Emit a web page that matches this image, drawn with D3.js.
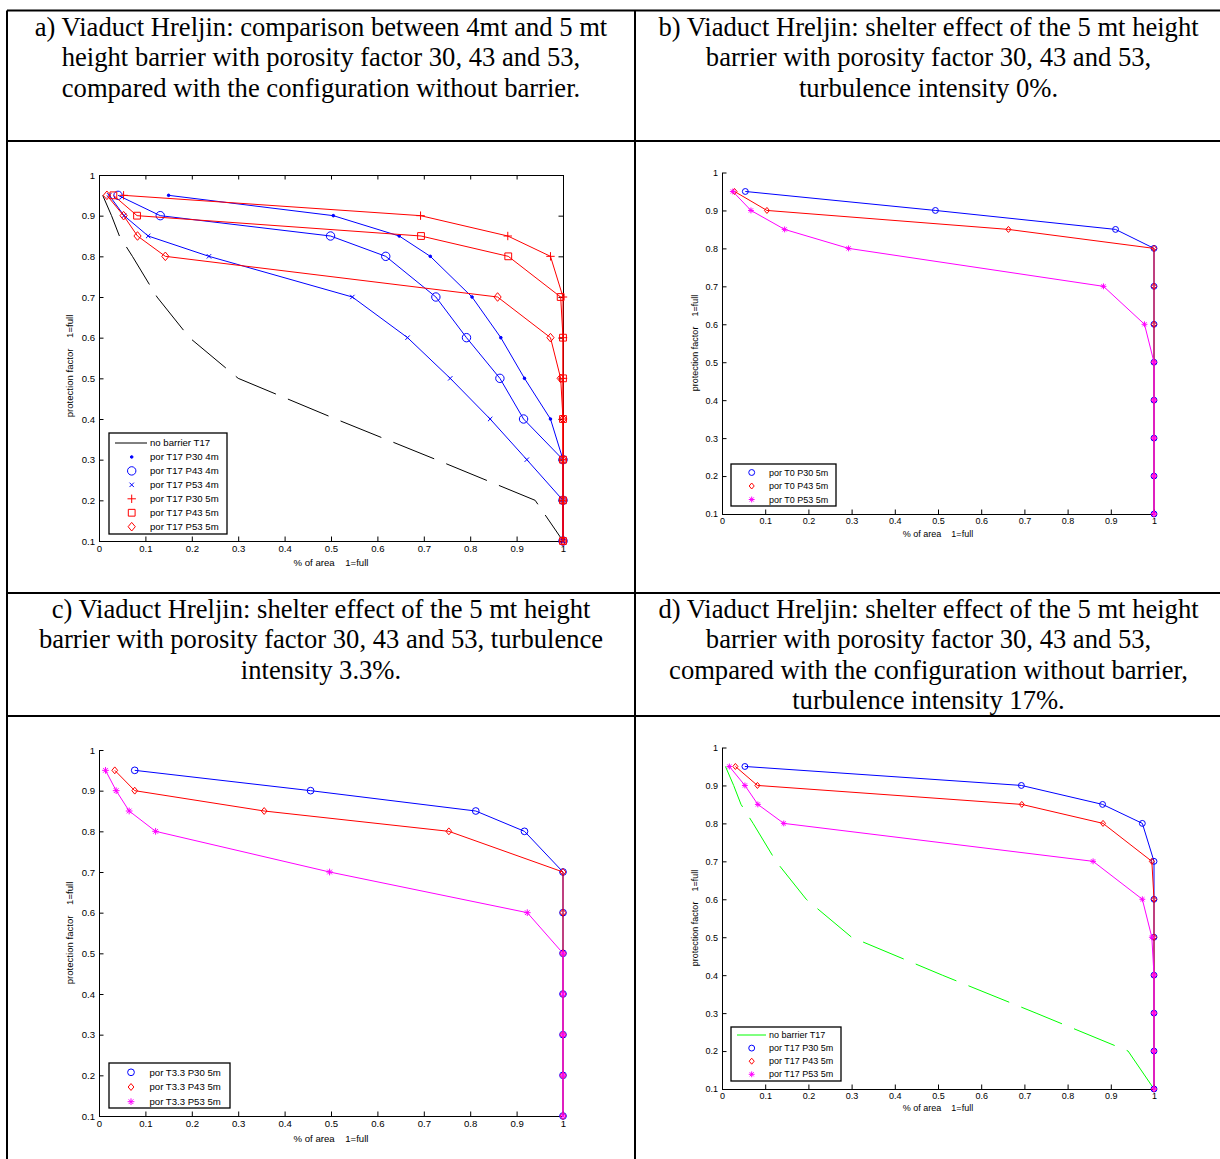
<!DOCTYPE html>
<html>
<head>
<meta charset="utf-8">
<script src="https://cdn.jsdelivr.net/npm/d3@7"></script>
<style>
  body { margin: 0; background: #fff; }
  text { white-space: pre; }
</style>
</head>
<body>
<div id="fig"></div>
<script>
// protection factor levels shared by every curve (y values)
const protectionLevels = [0.95, 0.9, 0.85, 0.8, 0.7, 0.6, 0.5, 0.4, 0.3, 0.2, 0.1];
const xTicks = [0, 0.1, 0.2, 0.3, 0.4, 0.5, 0.6, 0.7, 0.8, 0.9, 1];
const yTicks = [0.1, 0.2, 0.3, 0.4, 0.5, 0.6, 0.7, 0.8, 0.9, 1];

// % of area (x values), one array per curve
const noBarrierT17 = [0.008, 0.027, 0.044, 0.072, 0.125, 0.195, 0.3, 0.51, 0.727, 0.94, 1];
const t17P30_4m = [0.15, 0.505, 0.647, 0.714, 0.804, 0.866, 0.917, 0.973, 1, 1, 1];
const t17P43_4m = [0.041, 0.132, 0.499, 0.618, 0.726, 0.792, 0.864, 0.915, 1, 1, 1];
const t17P53_4m = [0.022, 0.054, 0.106, 0.237, 0.546, 0.665, 0.757, 0.843, 0.922, 1, 1];
const t17P30_5m = [0.053, 0.693, 0.881, 0.973, 1, 1, 1, 1, 1, 1, 1];
const t17P43_5m = [0.031, 0.082, 0.694, 0.882, 0.995, 1, 1, 1, 1, 1, 1];
const t17P53_5m = [0.017, 0.053, 0.083, 0.143, 0.859, 0.973, 0.995, 1, 1, 1, 1];
const t0P30_5m = [0.054, 0.494, 0.911, 1, 1, 1, 1, 1, 1, 1, 1];
const t0P43_5m = [0.029, 0.104, 0.663, 1, 1, 1, 1, 1, 1, 1, 1];
const t0P53_5m = [0.025, 0.067, 0.145, 0.293, 0.883, 0.978, 1, 1, 1, 1, 1];
const t33P30_5m = [0.077, 0.456, 0.812, 0.917, 1, 1, 1, 1, 1, 1, 1];
const t33P43_5m = [0.034, 0.077, 0.356, 0.754, 1, 1, 1, 1, 1, 1, 1];
const t33P53_5m = [0.014, 0.037, 0.065, 0.122, 0.497, 0.923, 1, 1, 1, 1, 1];

const titleA = ["a) Viaduct Hreljin: comparison between 4mt and 5 mt",
                "height barrier with porosity factor 30, 43 and 53,",
                "compared with the configuration without barrier."];
const titleB = ["b) Viaduct Hreljin: shelter effect of the 5 mt height",
                "barrier with porosity factor 30, 43 and 53,",
                "turbulence intensity 0%."];
const titleC = ["c) Viaduct Hreljin: shelter effect of the 5 mt height",
                "barrier with porosity factor 30, 43 and 53, turbulence",
                "intensity 3.3%."];
const titleD = ["d) Viaduct Hreljin: shelter effect of the 5 mt height",
                "barrier with porosity factor 30, 43 and 53,",
                "compared with the configuration without barrier,",
                "turbulence intensity 17%."];

const W = 1220, H = 1159;
const svg = d3.select("#fig").append("svg")
    .attr("width", W).attr("height", H)
    .style("display", "block");

svg.append("rect").attr("width", W).attr("height", H).attr("fill", "#fff");

// ---- table grid ----
const grid = svg.append("g").attr("stroke", "#000").attr("stroke-width", 2);
[[7, 10.5, 1230, 10.5], [7, 141, 1230, 141], [7, 593, 1230, 593], [7, 716, 1230, 716],
 [7, 10.5, 7, 1170], [635, 10.5, 635, 1170]].forEach(l => {
  grid.append("line").attr("x1", l[0]).attr("y1", l[1]).attr("x2", l[2]).attr("y2", l[3]);
});

function drawTitle(lines, cx, y0) {
  const t = svg.append("text")
      .attr("font-family", "'Liberation Serif', 'Times New Roman', serif")
      .attr("font-size", 26.6)
      .attr("text-anchor", "middle")
      .attr("fill", "#000");
  lines.forEach((s, i) => {
    t.append("tspan").attr("x", cx).attr("y", y0 + i * 30.3).text(s);
  });
}
drawTitle(titleA, 321, 36);
drawTitle(titleB, 928.5, 36);
drawTitle(titleC, 321, 618);
drawTitle(titleD, 928.5, 618);

// ---- markers ----
function markerPath(type, k) {
  let r;
  switch (type) {
    case "o": r = 4.2 * k; return `M${-r},0A${r},${r} 0 1,0 ${r},0A${r},${r} 0 1,0 ${-r},0`;
    case "s": r = 3.4 * k; return `M${-r},${-r}H${r}V${r}H${-r}Z`;
    case "d": { const w = 3.6 * k, h = 4.3 * k; return `M0,${-h}L${w},0L0,${h}L${-w},0Z`; }
    case "+": r = 4.2 * k; return `M${-r},0H${r}M0,${-r}V${r}`;
    case "x": r = 2.2 * k; return `M${-r},${-r}L${r},${r}M${-r},${r}L${r},${-r}`;
    case "*": { r = 4.2 * k; const q = r * 0.7;
      return `M${-r},0H${r}M0,${-r}V${r}M${-q},${-q}L${q},${q}M${-q},${q}L${q},${-q}`; }
    case ".": r = 1.3 * k; return `M${-r},0A${r},${r} 0 1,0 ${r},0A${r},${r} 0 1,0 ${-r},0`;
  }
  return "";
}

function drawPanel(p) {
  const g = svg.append("g");
  const x = d3.scaleLinear().domain([0, 1]).range([p.left, p.right]);
  const y = d3.scaleLinear().domain([0.1, 1]).range([p.bottom, p.top]);
  const fmt = d => (d === 0 || d === 1) ? String(d) : d.toFixed(1);
  const font = "'Liberation Sans', Arial, sans-serif";

  const ax = g.append("g").attr("transform", `translate(0,${p.bottom})`)
      .call(d3.axisBottom(x).tickValues(xTicks).tickFormat(fmt)
            .tickSizeInner(-4.5).tickSizeOuter(0).tickPadding(4));
  const ay = g.append("g").attr("transform", `translate(${p.left},0)`)
      .call(d3.axisLeft(y).tickValues(yTicks).tickFormat(fmt)
            .tickSizeInner(-4.5).tickSizeOuter(0).tickPadding(4));
  const axes = [ax, ay];
  if (p.box) {
    axes.push(g.append("g").attr("transform", `translate(0,${p.top})`)
      .call(d3.axisTop(x).tickValues(xTicks).tickFormat("").tickSizeInner(-4.5).tickSizeOuter(0)));
    axes.push(g.append("g").attr("transform", `translate(${p.right},0)`)
      .call(d3.axisRight(y).tickValues(yTicks).tickFormat("").tickSizeInner(-4.5).tickSizeOuter(0)));
  }
  axes.forEach(a => {
    a.selectAll("path, line").attr("stroke", "#000").attr("stroke-width", 1);
    a.selectAll("text").attr("font-family", font).attr("font-size", p.fs).attr("fill", "#000");
  });

  g.append("text")
      .attr("x", (p.left + p.right) / 2).attr("y", p.xlabY)
      .attr("text-anchor", "middle").attr("font-family", font).attr("font-size", p.fs)
      .text("% of area    1=full");
  g.append("text")
      .attr("transform", `translate(${p.ylabX},${p.ylabY}) rotate(-90)`)
      .attr("text-anchor", "middle").attr("font-family", font).attr("font-size", p.fs)
      .text("protection factor    1=full");

  const line = d3.line().x(d => x(d[0])).y(d => y(d[1]));
  p.series.forEach(s => {
    const pts = s.xs.map((v, i) => [v, protectionLevels[i]]);
    g.append("path").datum(pts)
        .attr("d", line).attr("fill", "none")
        .attr("stroke", s.color).attr("stroke-width", 1)
        .attr("stroke-dasharray", s.dash || null);
    if (s.marker) {
      g.selectAll(null).data(pts).enter().append("path")
          .attr("transform", d => `translate(${x(d[0])},${y(d[1])})`)
          .attr("d", markerPath(s.marker, p.mk))
          .attr("fill", s.marker === "." ? s.color : "none")
          .attr("stroke", s.color).attr("stroke-width", 1);
    }
  });

  // legend
  const L = p.legend;
  const lg = g.append("g");
  lg.append("rect").attr("x", L.x).attr("y", L.y).attr("width", L.w).attr("height", L.h)
      .attr("fill", "#fff").attr("stroke", "#000").attr("stroke-width", 1.3);
  p.series.forEach((s, i) => {
    const ry = L.row0 + i * L.step;
    if (s.dash) {
      lg.append("line").attr("x1", L.lx0).attr("x2", L.lx1).attr("y1", ry).attr("y2", ry)
          .attr("stroke", s.color).attr("stroke-width", 1);
    }
    if (s.marker) {
      lg.append("path").attr("transform", `translate(${L.mx},${ry})`)
          .attr("d", markerPath(s.marker, p.mk))
          .attr("fill", s.marker === "." ? s.color : "none")
          .attr("stroke", s.color).attr("stroke-width", 1);
    }
    lg.append("text").attr("x", L.tx).attr("y", ry).attr("dy", "0.35em")
        .attr("font-family", font).attr("font-size", p.fs).text(s.name);
  });
}

const BLUE = "#0000ff", RED = "#ff0000", MAG = "#ff00ff", GREEN = "#00ff00";
const DASH = "44,13";

drawPanel({
  left: 99, right: 563, top: 175, bottom: 541, box: true, fs: 9.6, mk: 1,
  xlabY: 566, ylabX: 73, ylabY: 366,
  series: [
    { name: "no barrier T17", xs: noBarrierT17, color: "#000", dash: DASH },
    { name: "por T17 P30 4m", xs: t17P30_4m, color: BLUE, marker: "." },
    { name: "por T17 P43 4m", xs: t17P43_4m, color: BLUE, marker: "o" },
    { name: "por T17 P53 4m", xs: t17P53_4m, color: BLUE, marker: "x" },
    { name: "por T17 P30 5m", xs: t17P30_5m, color: RED, marker: "+" },
    { name: "por T17 P43 5m", xs: t17P43_5m, color: RED, marker: "s" },
    { name: "por T17 P53 5m", xs: t17P53_5m, color: RED, marker: "d" }
  ],
  legend: { x: 109, y: 433, w: 118, h: 101, row0: 443, step: 13.95, lx0: 115, lx1: 147, mx: 131.7, tx: 150 }
});

drawPanel({
  left: 722, right: 1154, top: 172.5, bottom: 514, box: false, fs: 9, mk: 0.7,
  xlabY: 537, ylabX: 698, ylabY: 343,
  series: [
    { name: "por T0 P30 5m", xs: t0P30_5m, color: BLUE, marker: "o" },
    { name: "por T0 P43 5m", xs: t0P43_5m, color: RED, marker: "d" },
    { name: "por T0 P53 5m", xs: t0P53_5m, color: MAG, marker: "*" }
  ],
  legend: { x: 731, y: 464, w: 105, h: 42, row0: 472.5, step: 13.5, mx: 751.7, tx: 769 }
});

drawPanel({
  left: 99, right: 563, top: 750, bottom: 1116, box: false, fs: 9.6, mk: 0.8,
  xlabY: 1142, ylabX: 73, ylabY: 933,
  series: [
    { name: "por T3.3 P30 5m", xs: t33P30_5m, color: BLUE, marker: "o" },
    { name: "por T3.3 P43 5m", xs: t33P43_5m, color: RED, marker: "d" },
    { name: "por T3.3 P53 5m", xs: t33P53_5m, color: MAG, marker: "*" }
  ],
  legend: { x: 109, y: 1063, w: 121, h: 45, row0: 1072.3, step: 14.7, mx: 131, tx: 149.5 }
});

drawPanel({
  left: 722, right: 1154, top: 747.5, bottom: 1089, box: false, fs: 9, mk: 0.7,
  xlabY: 1111, ylabX: 698, ylabY: 918,
  series: [
    { name: "no barrier T17", xs: noBarrierT17, color: GREEN, dash: DASH },
    { name: "por T17 P30 5m", xs: t17P30_5m, color: BLUE, marker: "o" },
    { name: "por T17 P43 5m", xs: t17P43_5m, color: RED, marker: "d" },
    { name: "por T17 P53 5m", xs: t17P53_5m, color: MAG, marker: "*" }
  ],
  legend: { x: 731, y: 1027, w: 110, h: 54, row0: 1035, step: 13.1, lx0: 737, lx1: 766, mx: 751.7, tx: 769 }
});
</script>
</body>
</html>
